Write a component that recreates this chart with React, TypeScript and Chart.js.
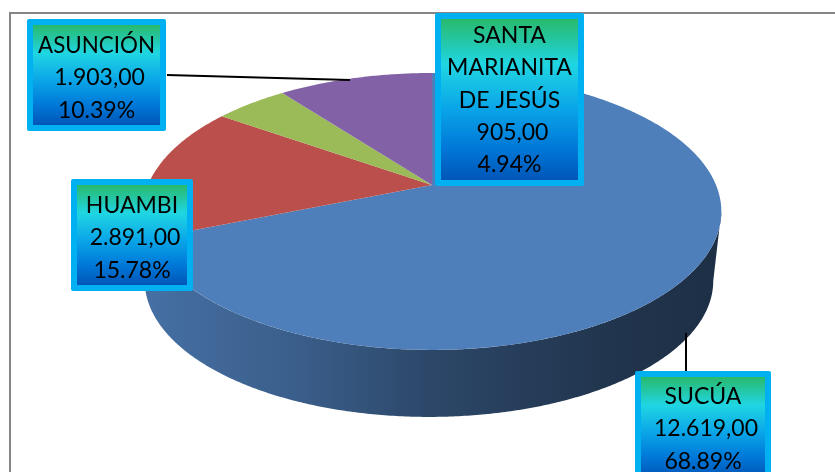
import React, { useEffect, useRef } from "react";
import { Chart, registerables } from "chart.js";

Chart.register(...registerables);

const categories = ["SUCÚA", "HUAMBI", "SANTA MARIANITA DE JESÚS", "ASUNCIÓN"];
const values = [12619, 2891, 905, 1903];
const valueLabels = ["12.619,00", "2.891,00", "905,00", "1.903,00"];
const percentLabels = ["68.89%", "15.78%", "4.94%", "10.39%"];
const sliceColors = ["#4f7fba", "#bb4f4b", "#9bbb59", "#8261a6"];
const nameLines = [["SUCÚA"], ["HUAMBI"], ["SANTA", "MARIANITA", "DE JESÚS"], ["ASUNCIÓN"]];

// box: left, top, right, bottom, first baseline, line step
const boxes = [
  [635, 371, 771, 483, 403.7, 32.7],
  [71, 179, 193, 291, 212.7, 32.5],
  [435, 13, 584, 186, 42.7, 32.4],
  [27, 19, 166, 131, 52.7, 32.5],
];

const APEX_X = 432;
const APEX_Y = 185;
const K = 0.191;
const project = (a: number, bottom: boolean) => {
  const t = a + Math.PI / 2;
  const u = Math.sin(t);
  const v = Math.cos(t);
  const d = 1 + K * v;
  return bottom
    ? [APEX_X - 3 + (279 * u) / d, APEX_Y + 70 - (131 * v) / d]
    : [APEX_X + (284 * u) / d, APEX_Y - (133.4 * v) / d];
};

// the part of the rim that faces the viewer, between the two silhouette points
const FRONT_START = (101 * Math.PI) / 180 - Math.PI / 2;
const FRONT_END = (259 * Math.PI) / 180 - Math.PI / 2;

const shadeStops = [
  [0, 0.88],
  [0.27, 0.74],
  [0.5, 0.56],
  [0.8, 0.42],
  [1, 0.37],
];

const rgb = (hex: string, f = 1) => {
  const n = parseInt(hex.slice(1), 16);
  return `rgb(${Math.round(((n >> 16) & 255) * f)},${Math.round(((n >> 8) & 255) * f)},${Math.round((n & 255) * f)})`;
};

const pie3d = {
  id: "pie3d",
  beforeDatasetDraw(chart: any) {
    const ctx: CanvasRenderingContext2D = chart.ctx;
    const arcs = chart.getDatasetMeta(0).data;
    const colors = chart.data.datasets[0].backgroundColor;

    // frame
    ctx.save();
    ctx.strokeStyle = "#868686";
    ctx.lineWidth = 2;
    ctx.strokeRect(10, 13, 900, 600);

    // side wall: the largest slice is the only one whose wall shows
    const g = ctx.createLinearGradient(142, 0, 722, 0);
    shadeStops.forEach(([p, f]) => g.addColorStop(p, rgb(colors[0], f)));
    const steps = 320;
    ctx.beginPath();
    for (let j = 0; j <= steps; j++) {
      const [x, y] = project(FRONT_START + ((FRONT_END - FRONT_START) * j) / steps, false);
      j ? ctx.lineTo(x, y) : ctx.moveTo(x, y);
    }
    for (let j = steps; j >= 0; j--) {
      const [x, y] = project(FRONT_START + ((FRONT_END - FRONT_START) * j) / steps, true);
      ctx.lineTo(x, y);
    }
    ctx.closePath();
    ctx.fillStyle = g;
    ctx.fill();

    // top surface
    arcs.forEach((arc: any, i: number) => {
      const { startAngle, endAngle } = arc.getProps(["startAngle", "endAngle"]);
      const n = Math.max(2, Math.ceil((endAngle - startAngle) / 0.01));
      ctx.beginPath();
      ctx.moveTo(APEX_X, APEX_Y);
      for (let j = 0; j <= n; j++) {
        const [x, y] = project(startAngle + ((endAngle - startAngle) * j) / n, false);
        ctx.lineTo(x, y);
      }
      ctx.closePath();
      ctx.fillStyle = rgb(colors[i]);
      ctx.fill();
    });
    ctx.restore();
    return false;
  },
  afterDatasetsDraw(chart: any) {
    const ctx: CanvasRenderingContext2D = chart.ctx;
    ctx.save();
    // leader lines
    ctx.strokeStyle = "#000";
    ctx.lineWidth = 2;
    ctx.beginPath();
    ctx.moveTo(167, 75);
    ctx.lineTo(350, 80);
    ctx.moveTo(686, 333);
    ctx.lineTo(686, 372);
    ctx.stroke();

    // label boxes
    ctx.textAlign = "center";
    ctx.textBaseline = "alphabetic";
    ctx.font = '23px Lato, "Open Sans", sans-serif';
    boxes.forEach(([l, t, r, b, base, step], i) => {
      ctx.fillStyle = "#00b0f0";
      ctx.beginPath();
      ctx.roundRect(l, t, r - l, b - t, 2);
      ctx.fill();
      const g = ctx.createLinearGradient(0, t + 6, 0, b - 6);
      g.addColorStop(0, "#28b96c");
      g.addColorStop(0.28, "#20d6e2");
      g.addColorStop(0.55, "#0aa6e8");
      g.addColorStop(0.8, "#0078d8");
      g.addColorStop(1, "#0056b8");
      ctx.fillStyle = g;
      ctx.fillRect(l + 6, t + 6, r - l - 12, b - t - 12);
      ctx.fillStyle = "#000";
      const cx = (l + r) / 2;
      const names = nameLines[i];
      names.forEach((s, j) => ctx.fillText(s, cx, base + step * j, r - l - 22));
      ctx.fillText(valueLabels[i], cx + 3, base + step * names.length);
      ctx.fillText(percentLabels[i], cx, base + step * (names.length + 1));
    });
    ctx.restore();
  },
};

export default function App() {
  const ref = useRef<HTMLCanvasElement>(null);
  useEffect(() => {
    const chart = new Chart(ref.current as HTMLCanvasElement, {
      type: "pie",
      data: {
        labels: categories,
        datasets: [{ data: values, backgroundColor: sliceColors, borderWidth: 0 }],
      },
      options: {
        animation: false,
        responsive: false,
        plugins: { legend: { display: false }, tooltip: { enabled: false } },
      },
      plugins: [pie3d],
    } as any);
    return () => chart.destroy();
  }, []);
  return (
    <div style={{ position: "fixed", left: 0, top: 0, width: 835, height: 472, background: "#fff", overflow: "hidden" }}>
      <canvas ref={ref} width={835} height={472} style={{ display: "block" }} />
    </div>
  );
}
